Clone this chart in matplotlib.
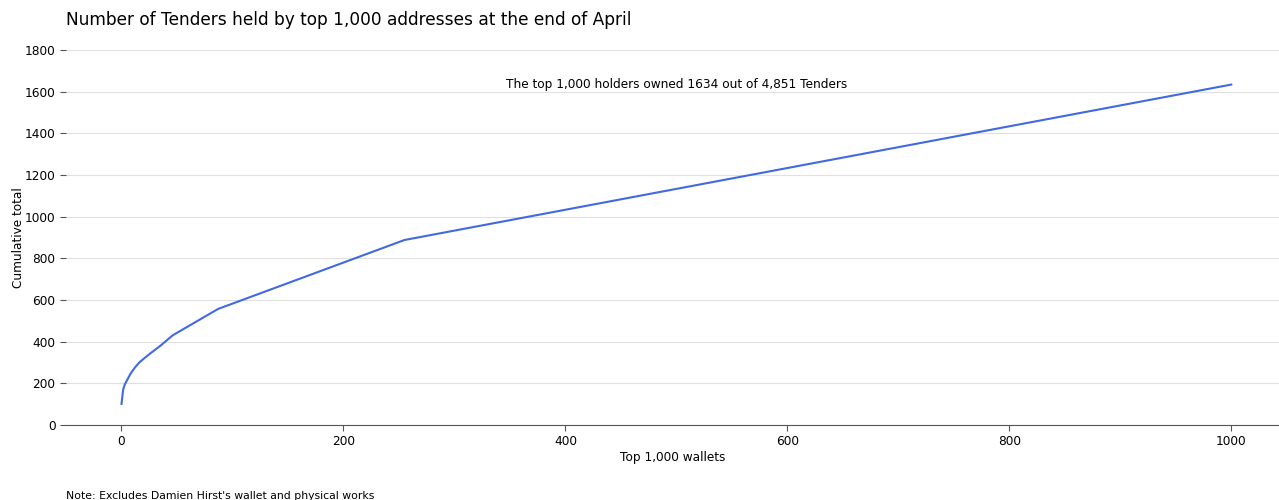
import matplotlib.pyplot as plt
import numpy as np

# cumulative tenders held
wallets = [0, 1.5, 3, 5, 8, 12, 16, 20, 27, 35, 46, 87, 255, 1000]
cumulative = [101, 170, 195, 215, 245, 275, 300, 318, 348, 380, 430, 557, 888, 1634]

title = "Number of Tenders held by top 1,000 addresses at the end of April"
note = "Note: Excludes Damien Hirst's wallet and physical works"
label = "The top 1,000 holders owned 1634 out of 4,851 Tenders"

plt.rcParams['font.family'] = 'DejaVu Sans'

fig = plt.figure(figsize=(12.79, 5.0), dpi=100)
ax = fig.add_axes([66/1279, 75/500, 1 - 66/1279, 375/500])

ax.plot(wallets, cumulative, color="#4169E1", lw=1.5)
ax.text(500, 1634, label, ha="center", va="center", fontsize=8.7)

ax.set_xlim(-50, 1043)
ax.set_ylim(0, 1800)
ax.set_xticks([0, 200, 400, 600, 800, 1000])
ax.set_yticks(np.arange(0, 1801, 200))
ax.grid(axis="y", color="#e0e0e0", lw=0.8)
ax.set_axisbelow(True)
for s in ["top", "right", "left"]:
    ax.spines[s].set_visible(False)
ax.spines["bottom"].set_color("#555555")
ax.tick_params(labelsize=8.7, length=4, color="#555555")
ax.set_xlabel("Top 1,000 wallets", fontsize=8.7, labelpad=2)
ax.set_ylabel("Cumulative total", fontsize=8.7, labelpad=0)

fig.text(66/1279, 1 - 20/500, title, fontsize=12.25, ha="left", va="center")
fig.text(66/1279, 1 - 496/500, note, fontsize=7.8, ha="left", va="center")

fig.savefig("out.png", dpi=100)
